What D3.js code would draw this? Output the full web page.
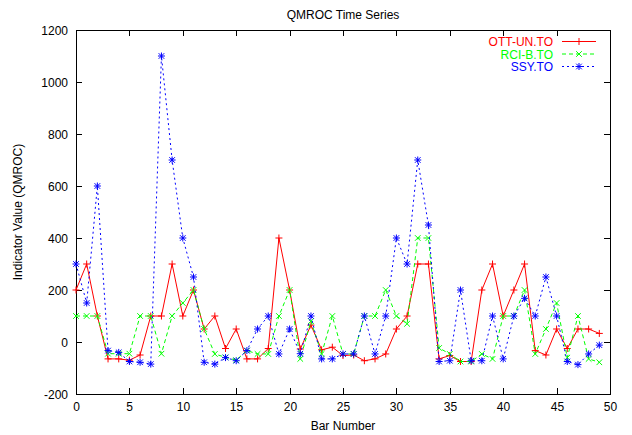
<!DOCTYPE html>
<html><head><meta charset="utf-8">
<script src="https://cdn.jsdelivr.net/npm/d3@7"></script>
<style>body{margin:0;background:#fff}svg{display:block}text{font-family:"Liberation Sans",Arial,sans-serif}</style>
</head><body>
<script>
const barNumbers = d3.range(0, 50);
const ottUn = [200,300,100,-65,-65,-70,-50,100,100,300,100,200,50,100,-25,50,-65,-65,-25,400,200,-27,65,-30,-20,-52,-50,-72,-65,-46,50,100,300,300,-65,-52,-75,-75,200,300,100,200,300,-33,-50,50,-25,50,50,33];
const rciB = [100,100,100,-45,-45,-45,100,100,-45,100,150,200,50,-46,-59,-70,-33,-46,-46,100,200,-65,80,-46,100,-46,-46,100,100,200,100,70,400,400,-23,-46,-75,-75,-46,-65,100,100,200,-46,50,150,-60,100,-65,-78];
const ssy = [300,150,600,-33,-40,-75,-78,-85,1100,700,400,250,-78,-85,-60,-72,-33,50,100,-46,50,-45,100,-65,-65,-46,-46,100,-46,100,400,300,700,450,-75,-72,200,-72,-72,100,-65,100,168,100,250,100,-75,-87,-46,-12];
const xTicks = [0,5,10,15,20,25,30,35,40,45,50];
const yTicks = [-200,0,200,400,600,800,1000,1200];
const seriesNames = ["OTT-UN.TO","RCI-B.TO","SSY.TO"];
const seriesColors = ["#ff0000","#00ff00","#0000ff"];

const W=632,H=435, L=76,R=610,T=30,B=394;
const svg=d3.select("body").append("svg").attr("width",W).attr("height",H);
const x=d3.scaleLinear().domain([0,50]).range([L,R]);
const y=d3.scaleLinear().domain([-200,1200]).range([B,T]);

svg.append("rect").attr("x",L+0.5).attr("y",T+0.5).attr("width",R-L).attr("height",B-T).attr("fill","none").attr("stroke","#000").attr("stroke-width",1);

const tl=6;
const g=svg.append("g").attr("stroke","#000").attr("stroke-width",1);
xTicks.forEach(t=>{const px=Math.round(x(t))+0.5;
  g.append("line").attr("x1",px).attr("x2",px).attr("y1",B).attr("y2",B-tl);
  g.append("line").attr("x1",px).attr("x2",px).attr("y1",T).attr("y2",T+tl);
  svg.append("text").attr("x",px).attr("y",B+17).attr("text-anchor","middle").attr("font-size",12).text(t);
});
yTicks.forEach(t=>{const py=Math.round(y(t))+0.5;
  g.append("line").attr("x1",L).attr("x2",L+tl).attr("y1",py).attr("y2",py);
  g.append("line").attr("x1",R).attr("x2",R-tl).attr("y1",py).attr("y2",py);
  svg.append("text").attr("x",L-8).attr("y",py+4).attr("text-anchor","end").attr("font-size",12).text(t);
});

svg.append("text").attr("x",(L+R)/2).attr("y",19).attr("text-anchor","middle").attr("font-size",12).text("QMROC Time Series");
svg.append("text").attr("x",(L+R)/2).attr("y",430).attr("text-anchor","middle").attr("font-size",12).text("Bar Number");
svg.append("text").attr("transform",`translate(22,${(T+B)/2}) rotate(-90)`).attr("text-anchor","middle").attr("font-size",12).text("Indicator Value (QMROC)");

const data=[ottUn,rciB,ssy];
const dashes=[null,"4,3","2,3"];
const line=d3.line().x((d,i)=>x(barNumbers[i])).y(d=>y(d));
const s=3.5;
function marker(sel,type,cx,cy,color){
  const p=[];
  if(type===0||type===2){p.push(`M${cx-s},${cy}L${cx+s},${cy}M${cx},${cy-s}L${cx},${cy+s}`);}
  if(type===1||type===2){p.push(`M${cx-s*0.8},${cy-s*0.8}L${cx+s*0.8},${cy+s*0.8}M${cx-s*0.8},${cy+s*0.8}L${cx+s*0.8},${cy-s*0.8}`);}
  sel.append("path").attr("d",p.join("")).attr("stroke",color).attr("stroke-width",1).attr("fill","none");
}
data.forEach((vals,k)=>{
  const gg=svg.append("g");
  gg.append("path").datum(vals).attr("d",line).attr("fill","none").attr("stroke",seriesColors[k]).attr("stroke-width",1).attr("stroke-dasharray",dashes[k]);
  vals.forEach((v,i)=>marker(gg,k,x(barNumbers[i]),y(v),seriesColors[k]));
});

seriesNames.forEach((n,k)=>{
  const ly=41.5+k*12.5;
  svg.append("text").attr("x",553).attr("y",ly+4.5).attr("text-anchor","end").attr("font-size",12).attr("fill",seriesColors[k]).text(n);
  svg.append("line").attr("x1",562).attr("x2",596).attr("y1",ly).attr("y2",ly).attr("stroke",seriesColors[k]).attr("stroke-dasharray",dashes[k]);
  marker(svg,k,579,ly,seriesColors[k]);
});
</script>
</body></html>
